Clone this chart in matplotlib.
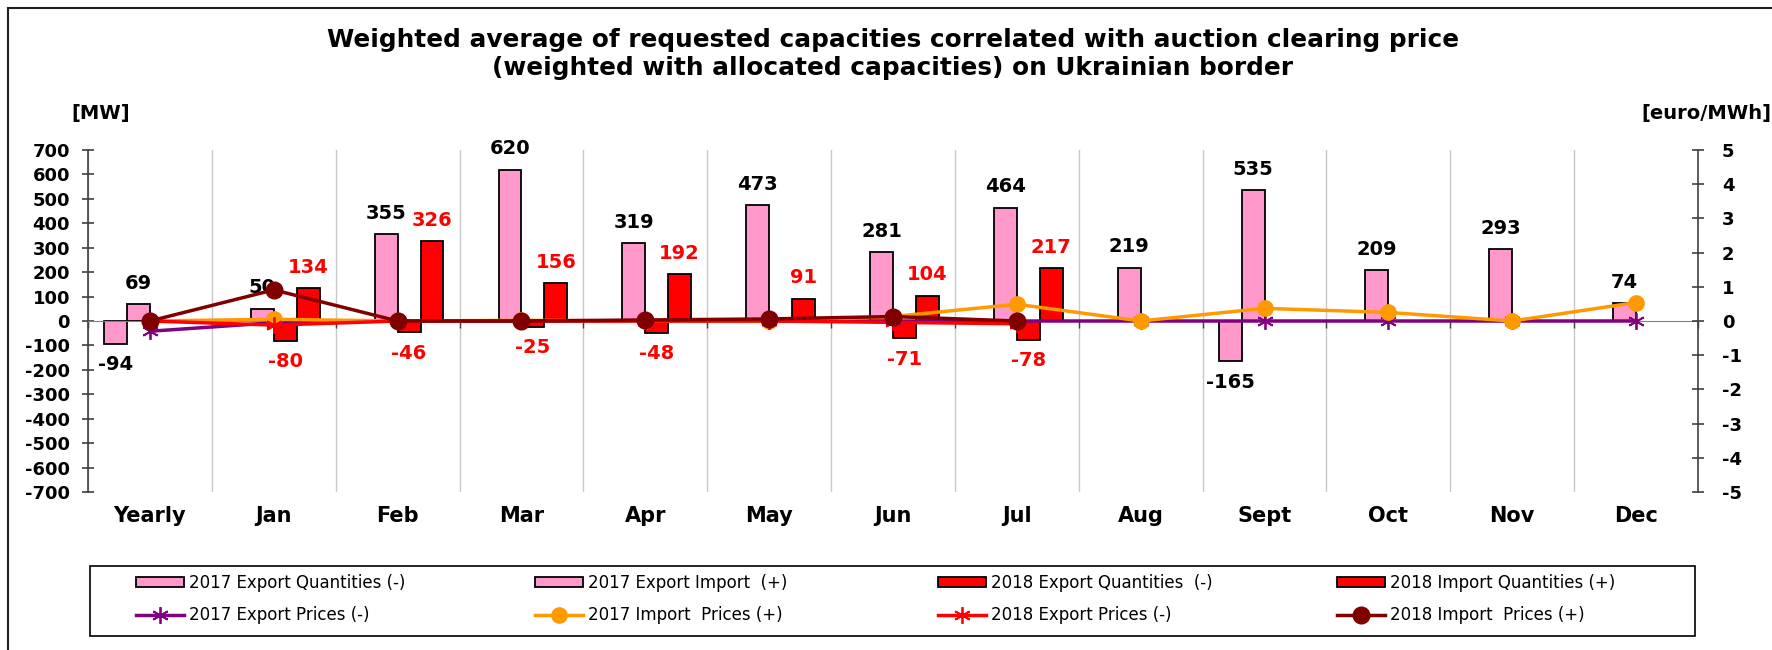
import numpy as np
import matplotlib
matplotlib.use("Agg")
import matplotlib.pyplot as plt
from matplotlib.lines import Line2D
from matplotlib.patches import Rectangle

plt.rcParams['font.family'] = ['DejaVu Sans']
plt.rcParams['axes.unicode_minus'] = False

nan = np.nan
categories = ["Yearly", "Jan", "Feb", "Mar", "Apr", "May", "Jun", "Jul",
              "Aug", "Sept", "Oct", "Nov", "Dec"]
exp_qty_2017 = [-94, nan, nan, nan, nan, nan, nan, nan, nan, -165, nan, nan, nan]
imp_qty_2017 = [69, 50, 355, 620, 319, 473, 281, 464, 219, 535, 209, 293, 74]
exp_qty_2018 = [nan, -80, -46, -25, -48, nan, -71, -78, nan, nan, nan, nan, nan]
imp_qty_2018 = [nan, 134, 326, 156, 192, 91, 104, 217, nan, nan, nan, nan, nan]
exp_price_2017 = [-0.3, -0.05, 0, 0, 0, 0, 0, 0, 0, 0, 0, 0, 0]
imp_price_2017 = [0, 0.05, 0, 0.02, 0, 0, 0.13, 0.49, 0, 0.37, 0.25, 0, 0.54]
exp_price_2018 = [0, -0.12, 0, 0, 0, 0, -0.04, -0.08]
imp_price_2018 = [0, 0.91, 0, 0, 0.03, 0.06, 0.13, 0]
mw_ticks = list(range(-700, 701, 100))
price_ticks = list(range(-5, 6))

title1 = "Weighted average of requested capacities correlated with auction clearing price"
title2 = "(weighted with allocated capacities) on Ukrainian border"

W, H = 1772, 650
fig = plt.figure(figsize=(W / 100, H / 100), dpi=100)
fig.patch.set_facecolor('white')

ax = fig.add_axes([88 / W, 1 - 492 / H, (1698 - 88) / W, (492 - 150) / H])
x = np.arange(len(categories))
w = 0.185
pink, red = '#FF99CC', '#FF0000'

bar_specs = [
    (exp_qty_2017, -1.5, pink, 'black', "2017 Export Quantities (-)"),
    (imp_qty_2017, -0.5, pink, 'black', "2017 Export Import  (+)"),
    (exp_qty_2018, 0.5, red, red, "2018 Export Quantities  (-)"),
    (imp_qty_2018, 1.5, red, red, "2018 Import Quantities (+)"),
]
bars = []
for vals, off, col, lblcol, name in bar_specs:
    v = np.array(vals, dtype=float)
    b = ax.bar(x + off * w, v, w, color=col, edgecolor='black', linewidth=1.3,
               label=name, zorder=2)
    bars.append(b)
    for xi, vi in zip(x + off * w, v):
        if np.isnan(vi):
            continue
        dy = 15 if vi >= 0 else -15
        ax.annotate(f"{vi:.0f}", (xi, vi), xytext=(0, dy), textcoords='offset points',
                    ha='center', va='center', fontsize=14, fontweight='bold',
                    color=lblcol, zorder=5)

ax.set_xlim(-0.5, len(categories) - 0.5)
ax.set_ylim(-700, 700)
ax.set_yticks(mw_ticks)
ax.set_xticks(x)
ax.set_xticklabels([])
ax.set_xticks(np.arange(-0.5, len(categories), 1), minor=True)
ax.tick_params(axis='x', which='major', length=0)
ax.tick_params(axis='x', which='minor', length=5, direction='out', color='#404040', width=1)
ax.grid(axis='x', which='minor', color='#C8C8C8', linewidth=1)
ax.set_axisbelow(True)
ax.spines['top'].set_visible(False)
ax.spines['right'].set_visible(False)
ax.spines['bottom'].set_position(('data', 0))
ax.spines['bottom'].set_color('#808080')
ax.spines['left'].set_color('#404040')
ax.spines['left'].set_linewidth(1.2)
ax.tick_params(axis='y', direction='inout', length=9, width=1.2, color='#404040',
               labelsize=13, pad=8.5)
for t in ax.get_yticklabels():
    t.set_fontweight('bold')
ax.patch.set_alpha(0)

for xi, c in zip(x, categories):
    ax.text(xi, -0.07, c, transform=ax.get_xaxis_transform(), ha='center', va='center',
            fontsize=15, fontweight='bold')

ax2 = ax.twinx()
ax2.set_ylim(-5, 5)
ax2.set_yticks(price_ticks)
for s in ['top', 'left', 'bottom']:
    ax2.spines[s].set_visible(False)
ax2.spines['right'].set_color('#404040')
ax2.spines['right'].set_linewidth(1.2)
ax2.tick_params(axis='y', direction='inout', length=9, width=1.2, color='#404040',
                labelsize=13, pad=12.8)
for t in ax2.get_yticklabels():
    t.set_fontweight('bold')

star = (6, 2, 0)
l1, = ax2.plot(x, exp_price_2017, color='#800080', lw=2.5, marker=star, ms=12, mew=1.3,
               label="2017 Export Prices (-)", zorder=3)
l2, = ax2.plot(x, imp_price_2017, color='#FF9900', lw=2.5, marker='o', ms=11,
               label="2017 Import  Prices (+)", zorder=3)
l3, = ax2.plot(x[:len(exp_price_2018)], exp_price_2018, color='#FF0000', lw=2.5, marker=star,
               ms=12, mew=1.3, label="2018 Export Prices (-)", zorder=3)
l4, = ax2.plot(x[:len(imp_price_2018)], imp_price_2018, color='#800000', lw=2.5, marker='o',
               ms=12, label="2018 Import  Prices (+)", zorder=3)
lines = [l1, l2, l3, l4]

# titles and unit labels
fig.text(893 / W, 1 - 40 / H, title1, ha='center', va='center', fontsize=17.8, fontweight='bold')
fig.text(893 / W, 1 - 68 / H, title2, ha='center', va='center', fontsize=17.8, fontweight='bold')
fig.text(101 / W, 1 - 113 / H, "[MW]", ha='center', va='center', fontsize=14, fontweight='bold')
fig.text(1641 / W, 1 - 113 / H, "[euro/MWh]", ha='left', va='center', fontsize=14, fontweight='bold')

# legend frame and columns
fig.patches.append(Rectangle((90 / W, 1 - 636 / H), 1605 / W, 70 / H, transform=fig.transFigure,
                             fill=False, edgecolor='black', linewidth=1.2))
col_x = [136, 535, 938, 1337]
for i in range(4):
    fig.legend([bars[i], lines[i]], [bars[i].get_label(), lines[i].get_label()],
               loc='upper left', bbox_to_anchor=(col_x[i] / W, 1 - 574 / H),
               frameon=False, borderpad=0, borderaxespad=0, fontsize=12,
               handlelength=2.9, handleheight=0.6, handletextpad=0.3, labelspacing=0.87)

# outer border lines
fig.add_artist(Line2D([8 / W, 8 / W], [0, 1 - 8 / H], transform=fig.transFigure,
                      color='#202020', lw=1.5))
fig.add_artist(Line2D([8 / W, 1], [1 - 8 / H, 1 - 8 / H], transform=fig.transFigure,
                      color='#202020', lw=1.5))

fig.savefig("out.png", dpi=100, facecolor='white')
